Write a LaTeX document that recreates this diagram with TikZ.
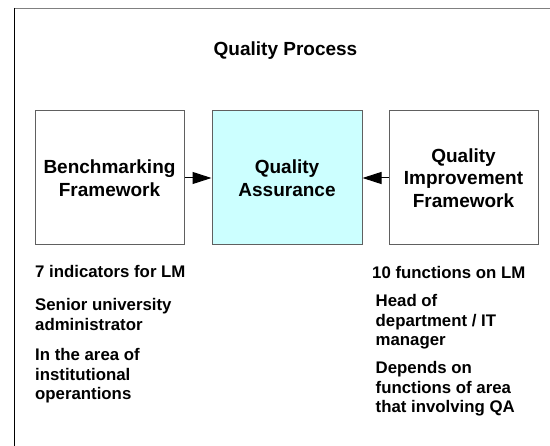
\documentclass[tikz,border=0pt]{standalone}
\usepackage{fontspec}
\setmainfont{Liberation Sans}
\usetikzlibrary{arrows.meta}
\definecolor{boxline}{HTML}{606060}
\definecolor{qafill}{HTML}{CCFFFF}
\definecolor{frameline}{HTML}{808080}
\tikzset{
    plain-box/.style = {draw=boxline, fill=white, line width=1pt, rectangle, minimum width=149pt, minimum height=134pt, align=center, inner sep=0pt, font=\fontsize{19}{22.5}\selectfont\bfseries},
    qa-box/.style = {plain-box, fill=qafill, minimum width=150pt},
    note-text/.style = {anchor=base west, align=left, inner sep=0pt, font=\fontsize{16.8}{19.4}\selectfont\bfseries},
    feed-arrow/.style = {draw=black, line width=1pt, -{Triangle[length=19pt, width=12pt]}},
}

\begin{document}
\begin{tikzpicture}[x=1pt, y=-1pt]
\useasboundingbox (0,0) rectangle (550,446);
% frame
\draw[frameline, line width=1pt] (14,8.5) -- (550,8.5);
\draw[black, line width=1pt] (14,8) -- (14,446);

\node[font=\fontsize{19}{22.5}\selectfont\bfseries, anchor=base, inner sep=0pt] (title) at (285.5,55.5) {Quality Process};

\node[plain-box] (bench) at (109.5,178) {Benchmarking\\Framework};
\node[qa-box] (qa) at (287,178) {Quality\\Assurance};
\node[plain-box] (qif) at (463.5,178) {Quality\\Improvement\\Framework};

\draw[feed-arrow] (bench) -- (qa);
\draw[feed-arrow] (qif) -- (qa);

% notes under the boxes (placed at the baseline of their last line)
\node[note-text] (bench-note1) at (35,278) {7 indicators for LM};
\node[note-text] (bench-note2) at (35,330.4) {Senior university\\administrator};
\node[note-text] (bench-note3) at (35,399.8) {In the area of\\institutional\\operantions};
\node[note-text] (qif-note1) at (372,279) {10 functions on LM};
\node[note-text] (qif-note2) at (375.5,345.8) {Head of\\department / IT\\manager};
\node[note-text] (qif-note3) at (375.5,412.8) {Depends on\\functions of area\\that involving QA};
\end{tikzpicture}
\end{document}
